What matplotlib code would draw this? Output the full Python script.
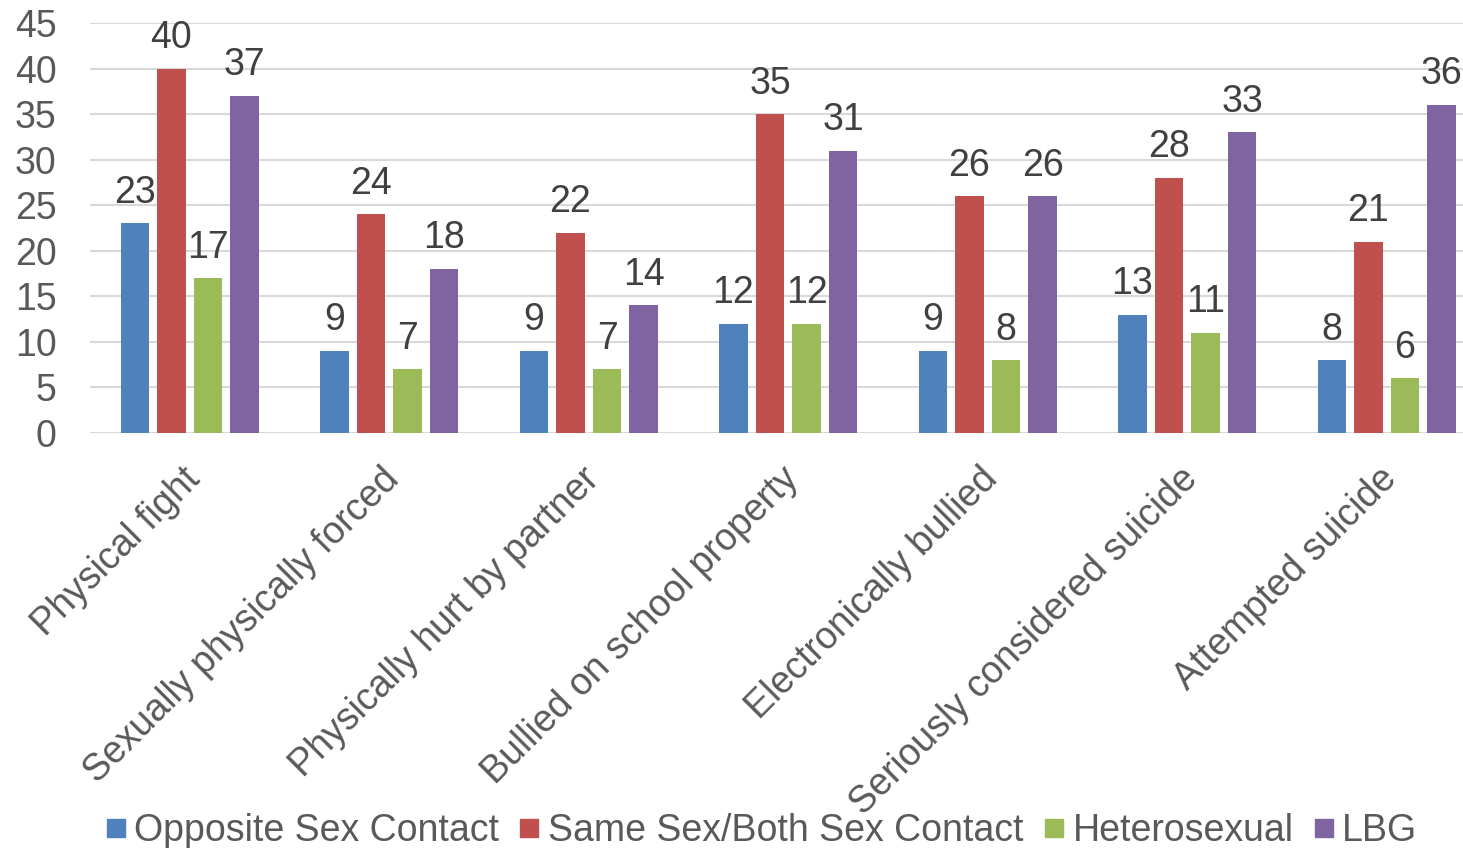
import numpy as np
import matplotlib
matplotlib.use("Agg")
import matplotlib.pyplot as plt
from matplotlib.lines import Line2D

categories = ["Physical fight", "Sexually physically forced", "Physically hurt by partner",
              "Bullied on school property", "Electronically bullied",
              "Seriously considered suicide", "Attempted suicide"]
series_names = ["Opposite Sex Contact", "Same Sex/Both Sex Contact", "Heterosexual", "LBG"]
opposite_sex = [23, 9, 9, 12, 9, 13, 8]
same_sex = [40, 24, 22, 35, 26, 28, 21]
heterosexual = [17, 7, 7, 12, 8, 11, 6]
lbg = [37, 18, 14, 31, 26, 33, 36]

colors = ["#4F81BD", "#C0504D", "#9BBB59", "#8064A2"]

plt.rcParams["font.family"] = ["Liberation Sans", "DejaVu Sans"]

fig = plt.figure(figsize=(14.63, 8.48), dpi=100)
ax = fig.add_axes([90 / 1463, 1 - 433 / 848, 1 - 90 / 1463, (433 - 23) / 848])

x = np.arange(len(categories))
bw = 0.145
pitch = 0.183
all_series = [opposite_sex, same_sex, heterosexual, lbg]
for i, (vals, c) in enumerate(zip(all_series, colors)):
    pos = x + (i - 1.5) * pitch
    ax.bar(pos, vals, width=bw, color=c, zorder=3)
    for xb, v in zip(pos, vals):
        ax.annotate(str(v), (xb, v), xytext=(0, 9), textcoords="offset points",
                    ha="center", va="bottom", fontsize=27, color="#404040")

ax.set_ylim(0, 45)
ax.set_xlim(-0.5, -0.5 + (1463 - 90) / 199.5)
ax.set_yticks(range(0, 46, 5))
ax.tick_params(axis="y", length=0, pad=24, labelsize=27, labelcolor="#595959")
ax.tick_params(axis="x", length=0, pad=20)
ax.set_xticks(x - 0.04)
ax.set_xticklabels(categories, rotation=45, ha="right", rotation_mode="anchor",
                   fontsize=27, color="#595959")
ax.grid(axis="y", color="#D9D9D9", linewidth=1.5, zorder=0)
for s in ax.spines.values():
    s.set_visible(False)

handles = [Line2D([], [], marker="s", linestyle="", markersize=13, color=c) for c in colors]
fig.legend(handles, series_names, loc="center", bbox_to_anchor=(760 / 1463, 1 - 831 / 848),
           ncol=4, frameon=False, fontsize=27, labelcolor="#595959",
           handletextpad=0.15, columnspacing=0.45, handlelength=0.7)

fig.savefig("out.png", dpi=100)
